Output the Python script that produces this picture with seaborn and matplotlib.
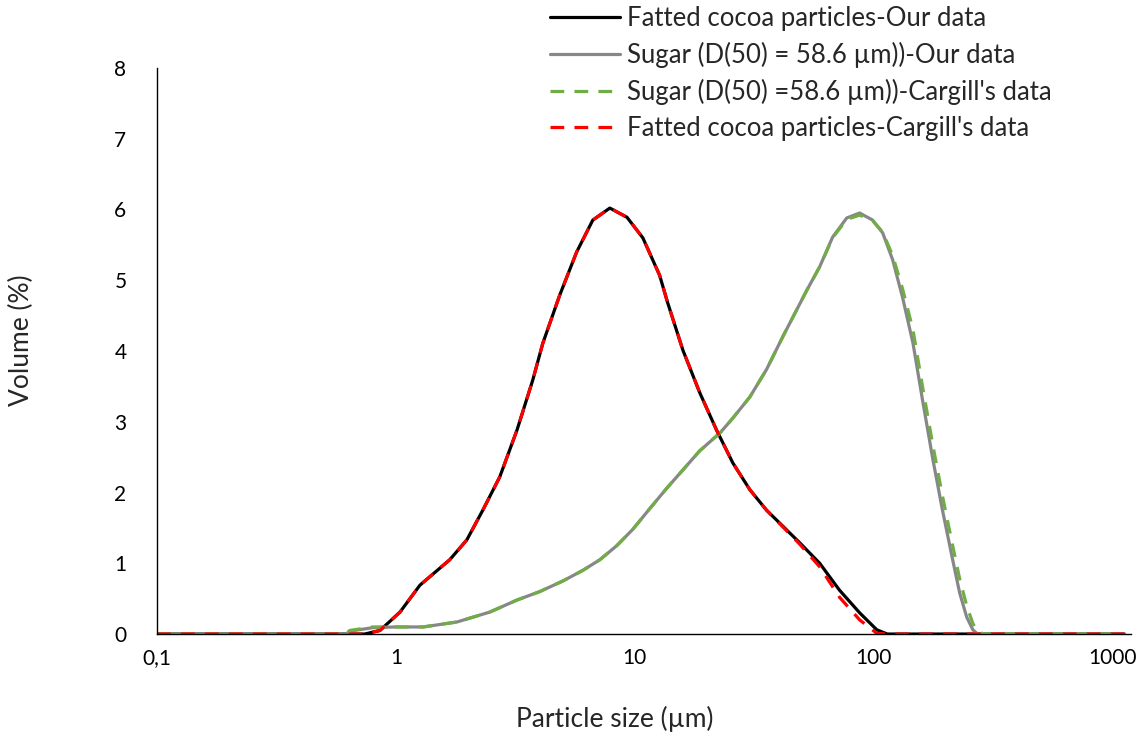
import numpy as np
import pandas as pd
import matplotlib
matplotlib.use("Agg")
import matplotlib.pyplot as plt
import seaborn as sns

# particle size (um) and volume (%)
cocoa_x = [0.1, 0.74, 0.857, 1.04, 1.26, 1.68, 1.98, 2.31, 2.72, 3.21,
           3.74, 4.12, 4.85, 5.71, 6.67, 7.86, 9.27, 10.8, 12.7, 13.7,
           15.9, 18.7, 22.0, 25.7, 30.3, 35.6, 49.0, 59.4, 71.9, 87.3,
           103, 114, 1120]
cocoa_ours = [0, 0, 0.05, 0.31, 0.69, 1.05, 1.33, 1.75, 2.22, 2.88,
              3.59, 4.11, 4.79, 5.40, 5.85, 6.02, 5.89, 5.60, 5.07, 4.69,
              4.01, 3.41, 2.88, 2.42, 2.04, 1.75, 1.29, 1.00, 0.62, 0.30,
              0.06, 0, 0]
cocoa_cargill = [0, 0, 0.05, 0.31, 0.69, 1.05, 1.33, 1.75, 2.22, 2.88,
                 3.59, 4.11, 4.79, 5.40, 5.85, 6.02, 5.89, 5.60, 5.07, 4.69,
                 4.01, 3.41, 2.88, 2.42, 2.04, 1.75, 1.27, 0.95, 0.52, 0.20,
                 0.01, 0, 0]

sugar_x = [0.1, 0.62, 0.64, 0.80, 1.0, 1.30, 1.80, 2.47, 3.21, 4.0,
           5.0, 6.06, 7.14, 8.41, 9.81, 11.6, 13.6, 16.0, 18.7, 22.7,
           25.7, 30.3, 35.6, 41.6, 52.5, 59.4, 67.3, 77.1, 87.3, 99.0,
           109, 120, 132, 146, 160, 177, 194, 214, 229, 245,
           260, 272, 290, 1120]
sugar_ours = [0, 0, 0.04, 0.09, 0.10, 0.10, 0.17, 0.31, 0.48, 0.60,
              0.75, 0.90, 1.05, 1.25, 1.48, 1.78, 2.06, 2.33, 2.59, 2.84,
              3.05, 3.35, 3.74, 4.20, 4.86, 5.19, 5.61, 5.88, 5.95, 5.85,
              5.67, 5.29, 4.76, 4.11, 3.31, 2.46, 1.75, 1.05, 0.58, 0.24,
              0.06, 0, 0, 0]
sugar_cargill = [0, 0, 0.05, 0.10, 0.10, 0.10, 0.17, 0.31, 0.48, 0.60,
                 0.75, 0.90, 1.05, 1.25, 1.48, 1.78, 2.06, 2.33, 2.59, 2.84,
                 3.05, 3.35, 3.74, 4.20, 4.86, 5.19, 5.60, 5.86, 5.92, 5.84,
                 5.68, 5.35, 4.88, 4.30, 3.50, 2.66, 1.95, 1.25, 0.78, 0.40,
                 0.15, 0.03, 0, 0]

labels = ["Fatted cocoa particles-Our data",
          "Sugar (D(50) = 58.6 \u00b5m))-Our data",
          "Sugar (D(50) =58.6 \u00b5m))-Cargill's data",
          "Fatted cocoa particles-Cargill's data"]
x_ticks = [0.1, 1, 10, 100, 1000]
x_tick_labels = ["0,1", "1", "10", "100", "1000"]

sns.set_style("white")
plt.rcParams['font.family'] = ['Lato', 'DejaVu Sans']

fig = plt.figure(figsize=(11.42, 7.34), dpi=100)
ax = fig.add_axes([0.1375, 0.1362, 0.8525, 0.7712])

lw = 2.3
dash = (0, (4.3, 3.2))
sns.lineplot(x=cocoa_x, y=cocoa_ours, ax=ax, color="black", lw=lw, label=labels[0],
             estimator=None, sort=False)
sns.lineplot(x=sugar_x, y=sugar_ours, ax=ax, color="#878787", lw=lw, label=labels[1],
             estimator=None, sort=False)
sns.lineplot(x=sugar_x, y=sugar_cargill, ax=ax, color="#70AD47", lw=lw, label=labels[2],
             estimator=None, sort=False, linestyle=dash)
sns.lineplot(x=cocoa_x, y=cocoa_cargill, ax=ax, color="#FF0000", lw=lw, label=labels[3],
             estimator=None, sort=False, linestyle=dash)

ax.set_xscale("log")
ax.set_xlim(0.1, 1189)
ax.set_ylim(0, 8)
ax.set_xticks(x_ticks)
ax.set_xticklabels(x_tick_labels)
ax.minorticks_off()
ax.set_yticks(range(0, 9))
ax.tick_params(axis="both", length=0, labelsize=15, colors="black")
ax.tick_params(axis="y", pad=22)
ax.tick_params(axis="x", pad=10)

for side in ["top", "right"]:
    ax.spines[side].set_visible(False)
for side in ["left", "bottom"]:
    ax.spines[side].set_color("black")
    ax.spines[side].set_linewidth(1.0)

ax.set_xlabel("Particle size (\u00b5m)", fontsize=19)
ax.set_ylabel("Volume (%)", fontsize=19)
ax.xaxis.set_label_coords(0.470, -0.127)
ax.yaxis.set_label_coords(-0.1263, 0.519)

ax.legend_.remove()
handles, leg_labels = ax.get_legend_handles_labels()
fig.legend(handles, leg_labels, loc="upper left", bbox_to_anchor=(0.4771, 0.999),
           frameon=False, fontsize=18.5, handlelength=2.72, handletextpad=0.27,
           labelspacing=0.43, borderpad=0.2, borderaxespad=0)

fig.savefig("out.png", dpi=100)
